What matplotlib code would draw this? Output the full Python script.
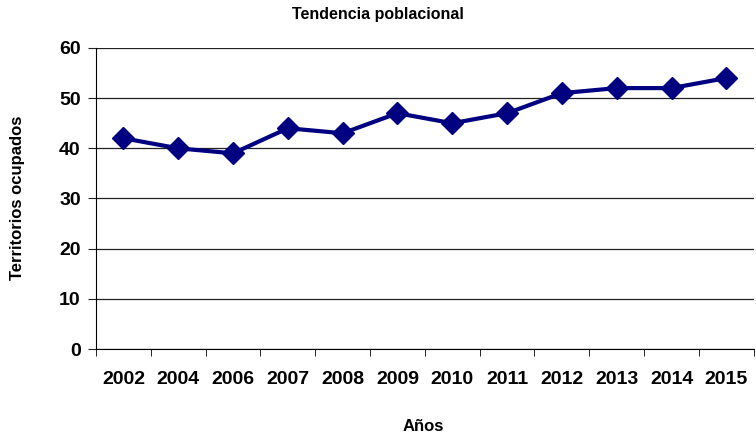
import matplotlib.pyplot as plt

years = ["2002", "2004", "2006", "2007", "2008", "2009", "2010", "2011", "2012", "2013", "2014", "2015"]
territorios = [42, 40, 39, 44, 43, 47, 45, 47, 51, 52, 52, 54]
yticks = [0, 10, 20, 30, 40, 50, 60]

plt.rcParams['font.family'] = ['Liberation Sans', 'DejaVu Sans']

fig = plt.figure(figsize=(7.56, 4.36), dpi=100)
ax = fig.add_axes([0.127, 0.1995, 0.87, 0.6905])

x = list(range(len(years)))
ax.plot(x, territorios, color='#000080', lw=3, marker='D', ms=11, zorder=3)

ax.set_xlim(-0.5, len(years) - 0.5)
ax.set_ylim(0, 60)
ax.set_yticks(yticks)
ax.set_yticklabels([str(v) for v in yticks], fontsize=14, fontweight='bold')
ax.yaxis.grid(True, color='#222222', lw=0.9)
ax.set_axisbelow(True)

# category labels centred, ticks on the boundaries
ax.set_xticks(x)
ax.set_xticklabels(years, fontsize=14, fontweight='bold')
ax.tick_params(axis='x', length=0, pad=16)
ax.set_xticks([i - 0.5 for i in range(len(years) + 1)], minor=True)
ax.tick_params(axis='x', which='minor', length=5, direction='out', color='black')
ax.tick_params(axis='y', length=6, direction='out', color='#222222', pad=5)

for s in ['top', 'right']:
    ax.spines[s].set_visible(False)
ax.spines['left'].set_color('black')
ax.spines['bottom'].set_color('black')

fig.text(0.5, 1 - 15 / 436, "Tendencia poblacional", fontsize=11.5, fontweight='bold',
         ha='center', va='center')
fig.text(423 / 756, 1 - 426 / 436, "Años", fontsize=12, fontweight='bold',
         ha='center', va='center')
fig.text(18 / 756, 1 - 198 / 436, "Territorios ocupados", fontsize=12, fontweight='bold',
         ha='center', va='center', rotation=90)

fig.savefig("out.png", dpi=100)
